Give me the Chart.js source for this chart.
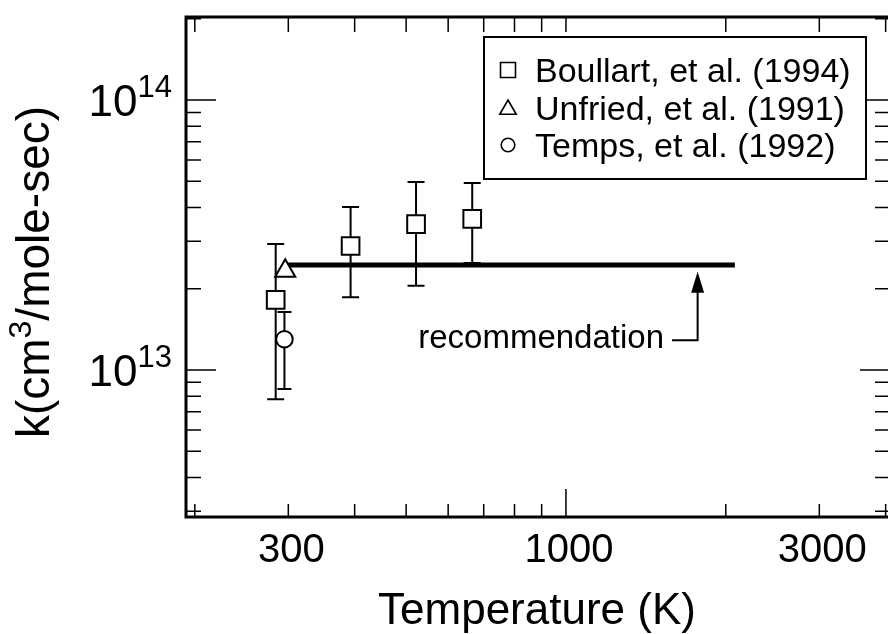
<!DOCTYPE html>
<html>
<head>
<meta charset="utf-8">
<script src="https://cdn.jsdelivr.net/npm/chart.js@4.4.0/dist/chart.umd.min.js"></script>
<style>
html,body{margin:0;padding:0;background:#fff;overflow:hidden}
#wrap{width:888px;height:634px;position:relative}
</style>
</head>
<body>
<div id="wrap"><canvas id="miGrafico" width="888" height="634"></canvas></div>
<script>
// Boullart, et al. (1994)
const boullartT = [284, 393, 522, 666];
const boullartK = [1.82e13, 2.88e13, 3.47e13, 3.63e13];
const boullartLo = [7.8e12, 1.86e13, 2.05e13, 2.49e13];
const boullartHi = [2.93e13, 4.02e13, 4.97e13, 4.93e13];
// Unfried, et al. (1991)
const unfriedT = [296];
const unfriedK = [2.33e13];
// Temps, et al. (1992)
const tempsT = [295];
const tempsK = [1.30e13];
const tempsLo = [8.5e12];
const tempsHi = [1.64e13];
// recommendation
const recT = [300, 2080];
const recK = [2.45e13, 2.45e13];

// axes
const xMajor = [1000];
const xMinor = [200, 300, 400, 500, 600, 700, 800, 900, 2000, 3000, 4000];
const xLabels = [300, 1000, 3000];
const yMajor = [1e13, 1e14];
const yMinor = [3e12, 4e12, 5e12, 6e12, 7e12, 8e12, 9e12, 2e13, 3e13, 4e13, 5e13, 6e13, 7e13, 8e13, 9e13, 2e14];

const fam = '"Liberation Sans", Arial, Helvetica, sans-serif';

function pts(xs, ys) { return xs.map((x, i) => ({x: x, y: ys[i]})); }

function supText(ctx, parts, x, y, align) {
    let w = 0;
    parts.forEach(p => { ctx.font = p.size + 'px ' + fam; p.w = ctx.measureText(p.t).width; w += p.w; });
    let cx = align === 'right' ? x - w : (align === 'center' ? x - w / 2 : x);
    ctx.textAlign = 'left';
    parts.forEach(p => { ctx.font = p.size + 'px ' + fam; ctx.fillText(p.t, cx, y + p.dy); cx += p.w; });
}

const errorBars = {
    id: 'errorBars',
    beforeDatasetsDraw(chart) {
        const ctx = chart.ctx, xs = chart.scales.x, ys = chart.scales.y;
        ctx.save();
        ctx.strokeStyle = '#000';
        ctx.lineWidth = 2;
        const bar = (t, lo, hi, hw) => {
            const x = xs.getPixelForValue(t), y1 = ys.getPixelForValue(lo), y2 = ys.getPixelForValue(hi);
            ctx.beginPath();
            ctx.moveTo(x, y1); ctx.lineTo(x, y2);
            ctx.moveTo(x - hw, y1); ctx.lineTo(x + hw, y1);
            ctx.moveTo(x - hw, y2); ctx.lineTo(x + hw, y2);
            ctx.stroke();
        };
        boullartT.forEach((t, i) => bar(t, boullartLo[i], boullartHi[i], 8.5));
        tempsT.forEach((t, i) => bar(t, tempsLo[i], tempsHi[i], 7));
        ctx.restore();
    }
};

const frame = {
    id: 'frame',
    afterDatasetsDraw(chart) {
        const ctx = chart.ctx, a = chart.chartArea, xs = chart.scales.x, ys = chart.scales.y;
        ctx.save();
        ctx.strokeStyle = '#000';
        ctx.fillStyle = '#000';
        // box
        ctx.lineWidth = 3;
        ctx.beginPath();
        ctx.moveTo(a.right + 4, a.bottom); ctx.lineTo(a.left, a.bottom); ctx.lineTo(a.left, a.top); ctx.lineTo(a.right + 4, a.top);
        ctx.stroke();

        // ticks, all pointing inwards
        ctx.lineWidth = 1.5;
        ctx.beginPath();
        xMinor.concat(xMajor).forEach(v => {
            const x = xs.getPixelForValue(v);
            const big = xMajor.includes(v);
            ctx.moveTo(x, a.bottom); ctx.lineTo(x, a.bottom - (big ? 28 : 13));
            ctx.moveTo(x, a.top); ctx.lineTo(x, a.top + 15);
        });
        yMinor.concat(yMajor).forEach(v => {
            const y = ys.getPixelForValue(v);
            const big = yMajor.includes(v);
            ctx.moveTo(a.left, y); ctx.lineTo(a.left + (big ? 30 : 15), y);
            ctx.moveTo(a.right, y); ctx.lineTo(a.right - (big ? 28 : 13), y);
        });
        ctx.stroke();

        // x tick labels
        ctx.textBaseline = 'alphabetic';
        ctx.textAlign = 'center';
        ctx.font = '40px ' + fam;
        xLabels.forEach(v => ctx.fillText(String(v), xs.getPixelForValue(v) + 3, 562));

        // y tick labels 10^n
        yMajor.forEach(v => {
            const y = ys.getPixelForValue(v);
            supText(ctx, [{t: '10', size: 44, dy: 0}, {t: String(Math.round(Math.log10(v))), size: 31, dy: -19}], 172, y + 16, 'right');
        });

        // axis titles
        ctx.textAlign = 'center';
        ctx.font = '44px ' + fam;
        ctx.fillText('Temperature (K)', (a.left + a.right) / 2, 624);
        ctx.save();
        ctx.translate(49, 272);
        ctx.rotate(-Math.PI / 2);
        supText(ctx, [{t: 'k(cm', size: 46, dy: 0}, {t: '3', size: 32, dy: -18}, {t: '/mole-sec)', size: 46, dy: 0}], 0, 0, 'center');
        ctx.restore();

        // recommendation label and arrow
        ctx.fillStyle = '#000';
        ctx.font = '33px ' + fam;
        ctx.textAlign = 'right';
        ctx.fillText('recommendation', xs.getPixelForValue(1530), ys.getPixelForValue(1.206e13));
        const ax = xs.getPixelForValue(1770), ay0 = ys.getPixelForValue(1.29e13), ay1 = ys.getPixelForValue(2.31e13);
        ctx.lineWidth = 2;
        ctx.beginPath();
        ctx.moveTo(xs.getPixelForValue(1584), ay0); ctx.lineTo(ax, ay0); ctx.lineTo(ax, ay1 + 15);
        ctx.stroke();
        ctx.fillStyle = '#000';
        ctx.beginPath();
        ctx.moveTo(ax, ay1); ctx.lineTo(ax - 6.5, ay1 + 21); ctx.lineTo(ax + 6.5, ay1 + 21); ctx.closePath();
        ctx.fill();

        // legend
        const lx = 484, ly = 37, lw = 382, lh = 142;
        ctx.fillStyle = '#fff';
        ctx.fillRect(lx, ly, lw, lh);
        ctx.lineWidth = 2;
        ctx.strokeRect(lx, ly, lw, lh);
        const rows = chart.data.datasets.filter(d => d.label !== 'recommendation');
        const sizes = {rect: 10.6, triangle: 9.5, circle: 6.8};
        rows.forEach((d, i) => {
            const cy = 70 + i * 37.5;
            ctx.lineWidth = 1.6;
            ctx.fillStyle = '#fff';
            ctx.strokeStyle = '#000';
            Chart.helpers.drawPoint(ctx, {pointStyle: d.pointStyle, rotation: 0, radius: sizes[d.pointStyle], borderWidth: 1.6}, 508, cy + (d.pointStyle === 'triangle' ? 2 : 0));
            ctx.fillStyle = '#000';
            ctx.font = '34px ' + fam;
            ctx.textAlign = 'left';
            ctx.fillText(d.label, 535, cy + 12);
        });
        ctx.restore();
    }
};

window.addEventListener("load", () => {
    const ctx = document.querySelector('#miGrafico').getContext('2d');

    const common = {pointBackgroundColor: '#fff', pointBorderColor: '#000', pointBorderWidth: 2, showLine: false};

    new Chart(ctx, {
        type: 'scatter',
        data: {
            datasets: [
                Object.assign({label: 'Boullart, et al. (1994)', data: pts(boullartT, boullartK), pointStyle: 'rect', pointRadius: 12.5, order: 1}, common),
                Object.assign({label: 'Unfried, et al. (1991)', data: pts(unfriedT, unfriedK), pointStyle: 'triangle', pointRadius: 11.6, order: 1}, common),
                Object.assign({label: 'Temps, et al. (1992)', data: pts(tempsT, tempsK), pointStyle: 'circle', pointRadius: 8.3, order: 1}, common),
                {label: 'recommendation', type: 'line', data: pts(recT, recK), borderColor: '#000', borderWidth: 5, pointRadius: 0, order: 2}
            ]
        },
        options: {
            responsive: false,
            animation: false,
            devicePixelRatio: 1,
            layout: {autoPadding: false, padding: {left: 186, right: 0, top: 17, bottom: 117}},
            plugins: {legend: {display: false}, tooltip: {enabled: false}},
            scales: {
                x: {type: 'logarithmic', min: 192.5, max: 4041, display: false},
                y: {type: 'logarithmic', min: 2.855e12, max: 2.03e14, display: false}
            }
        },
        plugins: [errorBars, frame]
    });
})
</script>
</body>
</html>
